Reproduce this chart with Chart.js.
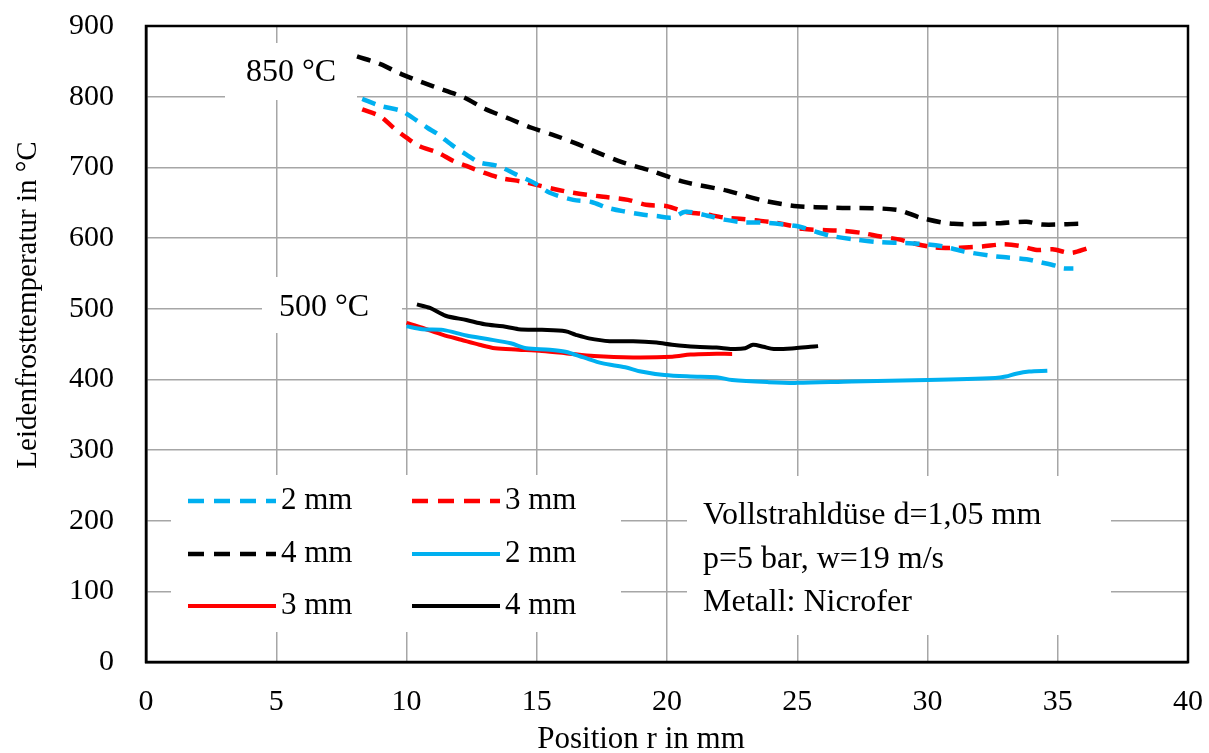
<!DOCTYPE html>
<html>
<head>
<meta charset="utf-8">
<script src="https://cdn.jsdelivr.net/npm/chart.js@4.4.1/dist/chart.umd.min.js"></script>
<style>
  html, body { margin: 0; padding: 0; background: #ffffff; }
  #wrap { width: 1209px; height: 753px; }
</style>
</head>
<body>
<div id="wrap"><canvas id="chart" width="1209" height="753"></canvas></div>
<script>
// Leidenfrosttemperatur über Position r (Vollstrahldüse d=1,05 mm)
const fontFamily = '"Liberation Serif", "Times New Roman", serif';

const xTicks = [0, 5, 10, 15, 20, 25, 30, 35, 40];
const yTicks = [0, 100, 200, 300, 400, 500, 600, 700, 800, 900];
const xTitle = 'Position r in mm';
const yTitle = 'Leidenfrosttemperatur in °C';

// 850 °C, gestrichelt
const r850_2mm = [8.3, 9.0, 9.8, 10.2, 10.8, 11.2, 11.8, 12.3, 12.8, 13.5, 14.2, 14.9, 15.5, 16.4, 17.1, 17.7, 18.3, 19.1, 19.6, 20.2, 20.7, 21.4, 22.2, 23.0, 23.6, 24.5, 25.1, 25.7, 26.3, 27.2, 28.2, 29.1, 30.0, 30.6, 31.4, 32.4, 32.9, 33.8, 34.3, 35.0, 35.2, 35.6];
const t850_2mm = [797, 787, 780, 771, 756, 747, 730, 718, 707, 702, 690, 678, 664, 654, 651, 643, 638, 633, 631, 629, 637, 633, 626, 622, 622, 619, 616, 609, 603, 598, 594, 593, 591, 588, 581, 575, 573, 570, 566, 560, 557, 557];

const r850_3mm = [8.3, 9.0, 9.5, 10.0, 10.5, 11.2, 11.8, 12.3, 13.0, 13.6, 14.4, 14.9, 15.7, 16.4, 17.4, 18.5, 19.2, 20.0, 20.7, 21.4, 22.2, 22.9, 23.4, 24.1, 24.8, 25.2, 26.1, 26.8, 27.5, 28.2, 28.9, 29.4, 30.2, 30.9, 31.6, 32.1, 32.9, 33.5, 34.2, 34.8, 35.5, 36.2];
const t850_3mm = [782, 772, 756, 742, 730, 721, 709, 702, 692, 685, 680, 676, 669, 664, 659, 654, 647, 645, 637, 634, 629, 627, 625, 622, 617, 613, 611, 610, 607, 602, 598, 593, 587, 586, 587, 588, 591, 589, 583, 584, 579, 586];

const r850_4mm = [8.1, 9.0, 9.8, 11.0, 12.2, 13.0, 14.0, 14.8, 15.7, 16.5, 17.2, 18.3, 19.4, 20.7, 22.3, 23.7, 25.0, 26.4, 28.8, 29.8, 31.0, 32.8, 33.8, 34.4, 35.8];
const t850_4mm = [857, 846, 832, 815, 799, 783, 768, 756, 745, 734, 723, 707, 695, 679, 667, 653, 645, 643, 640, 628, 620, 621, 623, 619, 620];

// 500 °C, durchgezogen
const r500_2mm = [10.0, 10.6, 11.4, 12.3, 13.1, 14.0, 14.6, 15.5, 16.1, 16.8, 17.5, 18.4, 19.0, 19.9, 20.9, 21.9, 22.5, 23.9, 25.0, 27.1, 30.0, 32.6, 33.0, 33.4, 33.9, 34.6];
const t500_2mm = [475, 471, 470, 462, 457, 451, 444, 442, 439, 431, 423, 417, 411, 406, 404, 403, 399, 396, 395, 397, 399, 402, 404, 408, 411, 412];

const r500_3mm = [10.0, 10.6, 11.4, 12.1, 12.8, 13.4, 14.3, 15.2, 16.1, 17.2, 18.7, 20.2, 20.9, 21.6, 22.5];
const t500_3mm = [480, 473, 463, 456, 449, 444, 442, 440, 437, 433, 431, 432, 435, 436, 436];

const r500_4mm = [10.4, 10.9, 11.5, 12.3, 13.0, 13.7, 14.3, 15.2, 16.1, 16.5, 17.0, 17.8, 18.7, 19.6, 20.2, 21.1, 21.9, 22.5, 23.0, 23.3, 23.7, 24.1, 24.9, 25.5, 25.8];
const t500_4mm = [506, 501, 490, 484, 478, 475, 471, 470, 468, 463, 458, 454, 454, 452, 449, 446, 445, 443, 444, 449, 446, 443, 444, 446, 447];

const seriesLabels = ['2 mm', '3 mm', '4 mm', '2 mm', '3 mm', '4 mm'];

const cyan = '#00b0f0';
const red = '#ff0000';
const black = '#000000';
const dash = [14, 9];

function pts(xs, ys) {
    return xs.map((x, i) => ({ x: x, y: ys[i] }));
}

function series(label, xs, ys, color, dashed) {
    return {
        label: label,
        data: pts(xs, ys),
        borderColor: color,
        backgroundColor: color,
        borderWidth: dashed ? 4.5 : 4,
        borderDash: dashed ? dash : [],
        pointRadius: 0,
        tension: 0.3,
        fill: false
    };
}

// weiße Kästen hinter den Beschriftungen (verdecken das Gitter)
const whiteBoxes = [
    { x0: 225, y0: 43, x1: 357, y1: 100 },
    { x0: 262, y0: 277, x1: 402, y1: 333 },
    { x0: 171, y0: 475, x1: 621, y1: 632 },
    { x0: 687, y0: 476, x1: 1111, y1: 635 }
];

const notes = [
    { text: '850 °C', x: 246, y: 73 },
    { text: '500 °C', x: 279, y: 308 },
    { text: 'Vollstrahldüse d=1,05 mm', x: 703, y: 516 },
    { text: 'p=5 bar, w=19 m/s', x: 703, y: 560 },
    { text: 'Metall: Nicrofer', x: 703, y: 603 }
];

const overlayPlugin = {
    id: 'overlay',
    beforeDatasetsDraw(chart) {
        const ctx = chart.ctx;
        ctx.save();
        ctx.fillStyle = '#ffffff';
        whiteBoxes.forEach(b => ctx.fillRect(b.x0, b.y0, b.x1 - b.x0, b.y1 - b.y0));
        ctx.restore();
    },
    afterDatasetsDraw(chart) {
        const ctx = chart.ctx;
        const area = chart.chartArea;
        ctx.save();
        ctx.fillStyle = '#000000';
        ctx.textBaseline = 'middle';
        ctx.textAlign = 'left';
        ctx.font = '32px ' + fontFamily;
        notes.forEach(n => ctx.fillText(n.text, n.x, n.y));

        // Legende, 2 Spalten x 3 Zeilen
        ctx.font = '31px ' + fontFamily;
        const colX = [188, 412];
        const rowY = [501, 554, 606];
        chart.data.datasets.forEach((ds, i) => {
            const c = i % 2;
            const r = Math.floor(i / 2);
            const x0 = colX[c];
            const y = rowY[r];
            ctx.beginPath();
            ctx.strokeStyle = ds.borderColor;
            ctx.lineWidth = ds.borderWidth;
            ctx.setLineDash(ds.borderDash.length ? [16, 10] : []);
            ctx.moveTo(x0, y);
            ctx.lineTo(x0 + 88, y);
            ctx.stroke();
            ctx.setLineDash([]);
            ctx.fillStyle = '#000000';
            ctx.fillText(ds.label, x0 + 93, y);
        });

        // Achsentitel
        ctx.textAlign = 'center';
        ctx.font = '31px ' + fontFamily;
        ctx.fillText(xTitle, 641, 740);
        ctx.save();
        ctx.translate(28, 305);
        ctx.rotate(-Math.PI / 2);
        ctx.font = '29px ' + fontFamily;
        ctx.fillText(yTitle, 0, 0);
        ctx.restore();

        // Rahmen
        ctx.strokeStyle = '#000000';
        ctx.lineWidth = 2.5;
        ctx.strokeRect(area.left, area.top, area.right - area.left, area.bottom - area.top);
        ctx.restore();
    }
};

new Chart(document.getElementById('chart'), {
    type: 'line',
    data: {
        datasets: [
            series(seriesLabels[0], r850_2mm, t850_2mm, cyan, true),
            series(seriesLabels[1], r850_3mm, t850_3mm, red, true),
            series(seriesLabels[2], r850_4mm, t850_4mm, black, true),
            series(seriesLabels[3], r500_2mm, t500_2mm, cyan, false),
            series(seriesLabels[4], r500_3mm, t500_3mm, red, false),
            series(seriesLabels[5], r500_4mm, t500_4mm, black, false)
        ]
    },
    options: {
        responsive: false,
        animation: false,
        devicePixelRatio: 1,
        layout: { padding: { left: 0, right: 21, top: 26, bottom: 0 } },
        plugins: {
            legend: { display: false },
            tooltip: { enabled: false }
        },
        scales: {
            x: {
                type: 'linear',
                min: 0,
                max: 40,
                afterBuildTicks: scale => { scale.ticks = xTicks.map(v => ({ value: v })); },
                afterFit: scale => {
                    scale.height = 91;
                    scale.paddingLeft = 0;
                    scale.paddingRight = 0;
                },
                ticks: {
                    color: '#000000',
                    font: { family: fontFamily, size: 30 },
                    padding: 22,
                    maxRotation: 0
                },
                grid: { color: '#a6a6a6', lineWidth: 1.5, drawTicks: false },
                border: { display: true, color: '#000000', width: 2.5 }
            },
            y: {
                type: 'linear',
                min: 0,
                max: 900,
                afterBuildTicks: scale => { scale.ticks = yTicks.map(v => ({ value: v })); },
                afterFit: scale => {
                    scale.width = 146;
                    scale.paddingTop = 0;
                    scale.paddingBottom = 0;
                },
                ticks: {
                    color: '#000000',
                    font: { family: fontFamily, size: 30 },
                    padding: 32
                },
                grid: { color: '#a6a6a6', lineWidth: 1.5, drawTicks: false },
                border: { display: true, color: '#000000', width: 2.5 }
            }
        }
    },
    plugins: [overlayPlugin]
});
</script>
</body>
</html>
